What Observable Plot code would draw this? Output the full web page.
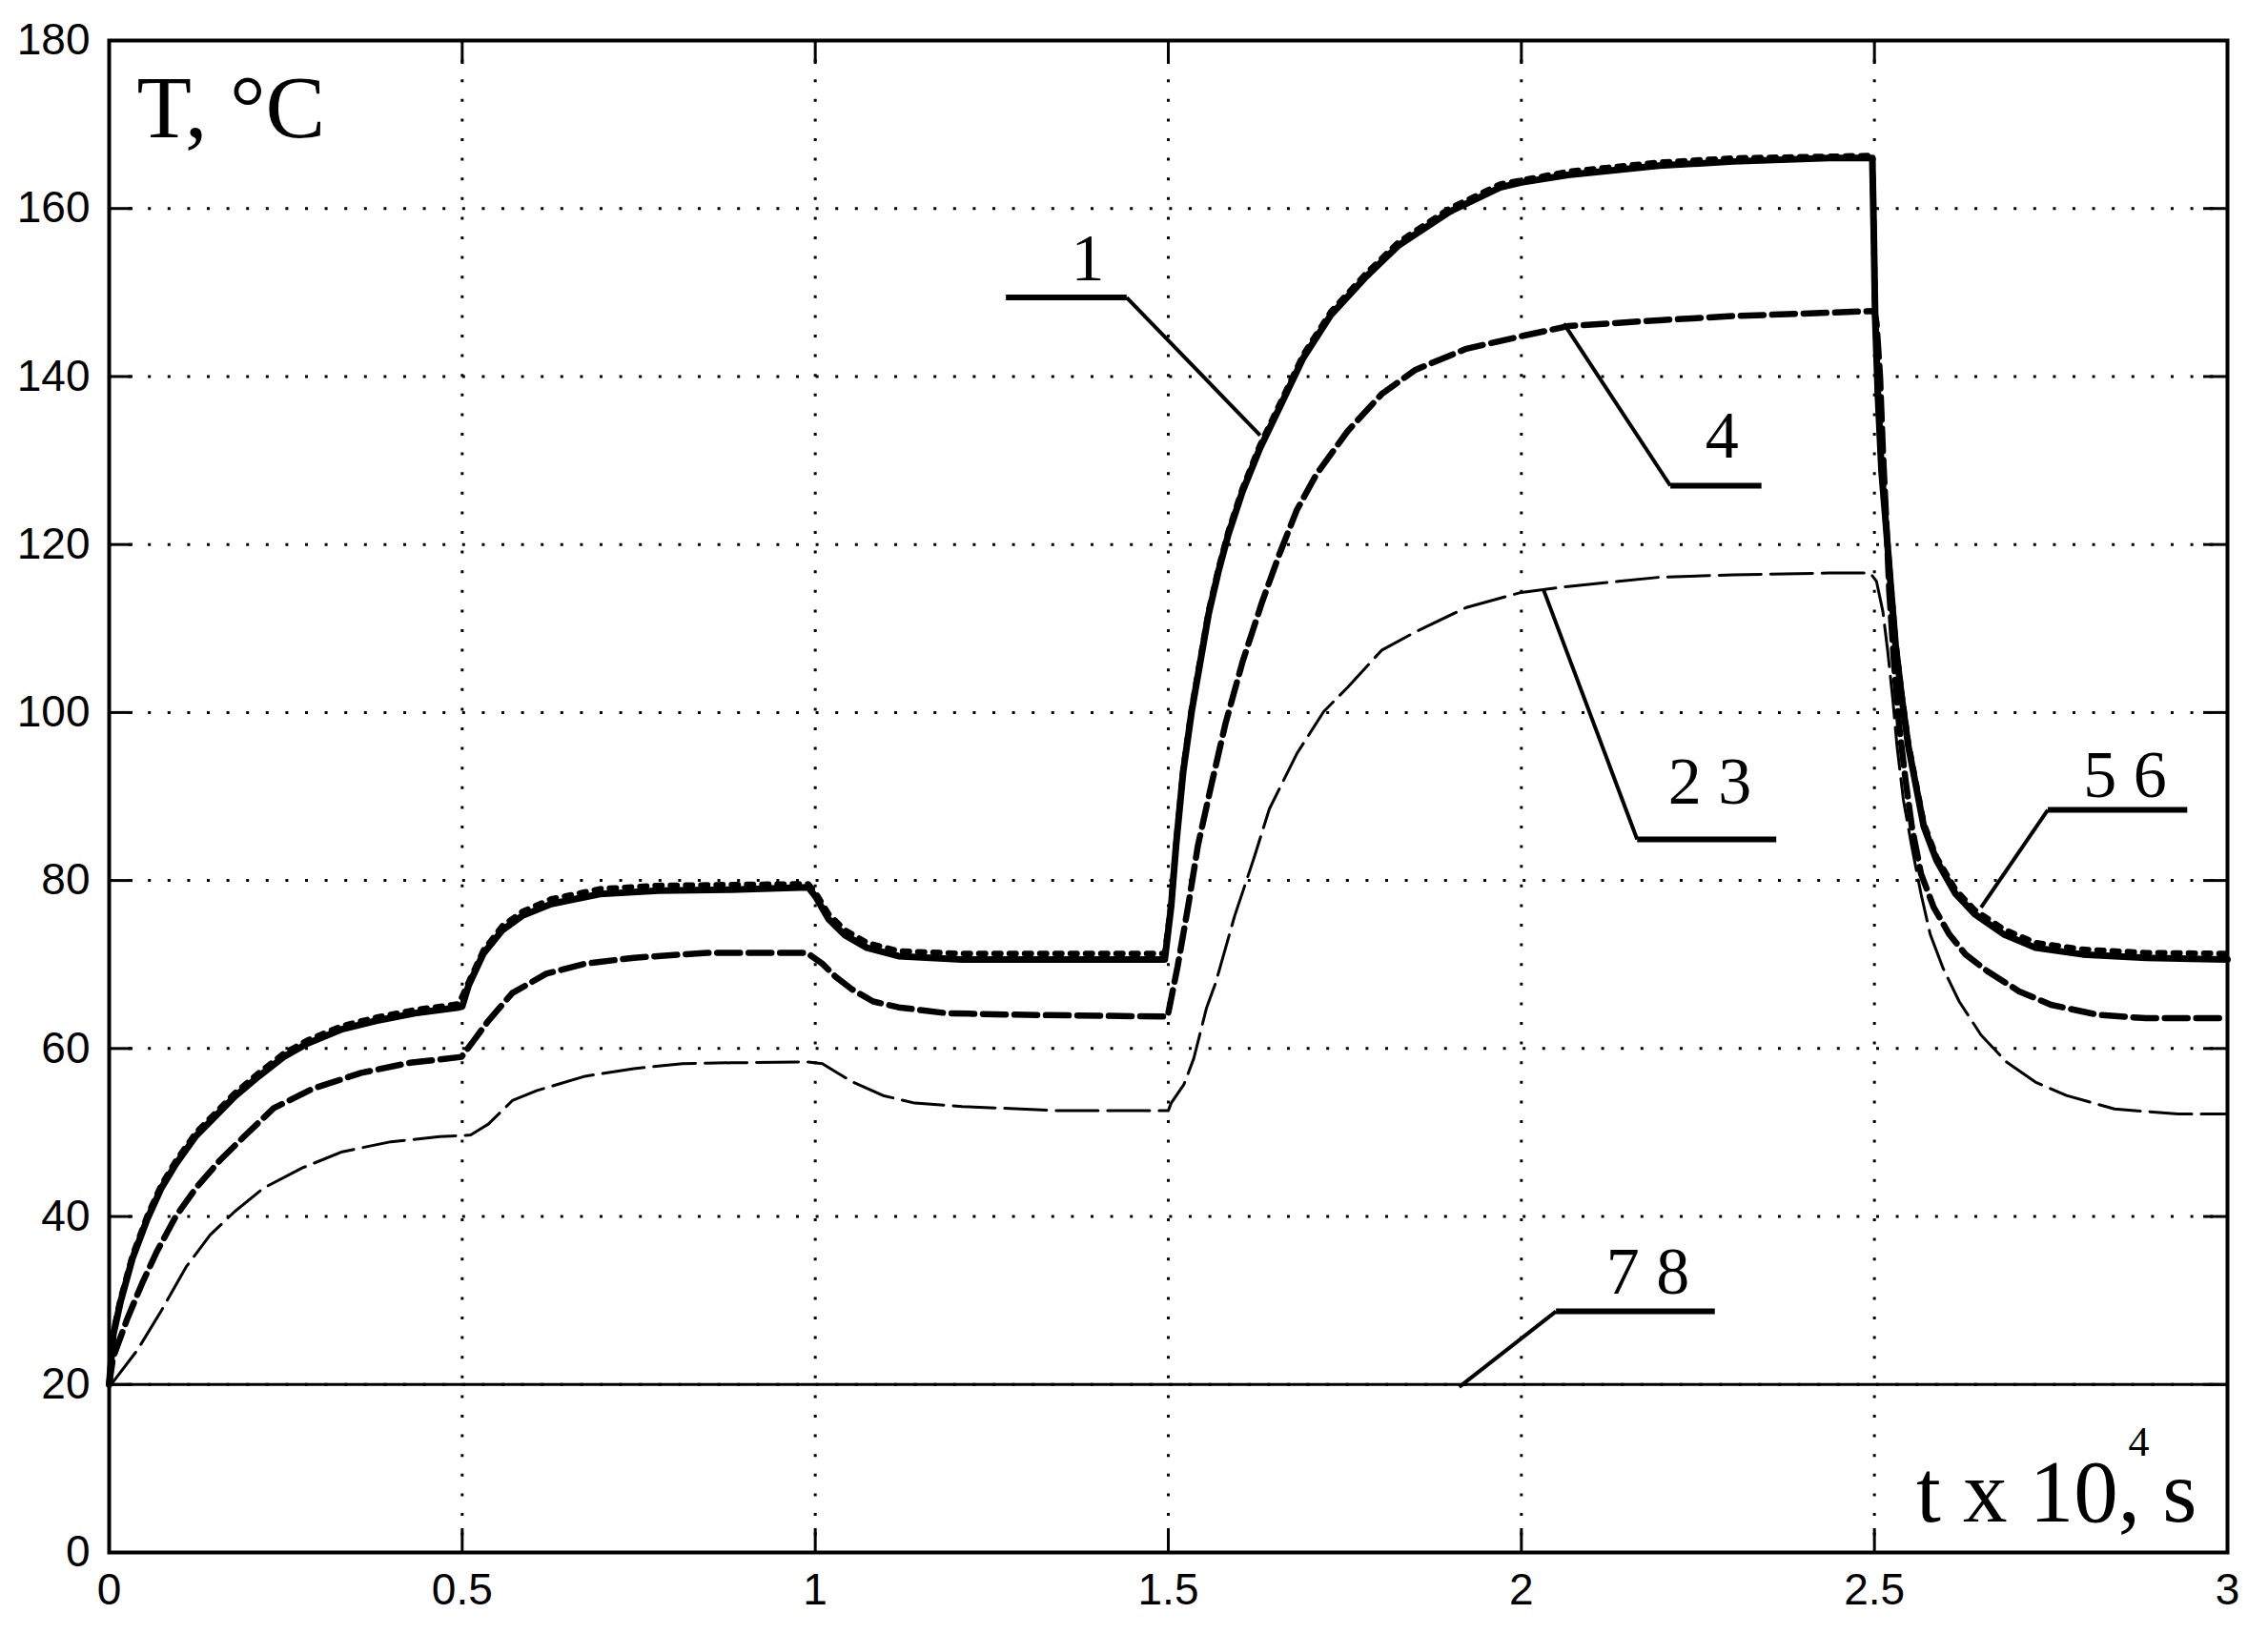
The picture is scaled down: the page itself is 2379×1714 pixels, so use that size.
<!DOCTYPE html>
<html><head><meta charset="utf-8">
<script src="https://cdn.jsdelivr.net/npm/d3@7"></script>
<script src="https://cdn.jsdelivr.net/npm/@observablehq/plot@0.6"></script>
<style>html,body{margin:0;padding:0;background:#fff;}</style>
</head><body><div id="chart"></div>
<script>
// ---- axis ticks ----
const xTicks = [0, 0.5, 1, 1.5, 2, 2.5, 3];
const xTickLabels = ["0", "0.5", "1", "1.5", "2", "2.5", "3"];
const yTicks = [0, 20, 40, 60, 80, 100, 120, 140, 160, 180];
const yTickLabels = ["0", "20", "40", "60", "80", "100", "120", "140", "160", "180"];

// ---- series values [t x 10^4 s, T °C] ----
const curve1 = [[0,20],[0.006,26],[0.016,29.8],[0.033,35.0],[0.054,39.7],[0.074,43.4],[0.095,46.3],[0.123,49.6],[0.150,51.9],[0.178,54.3],[0.212,56.7],[0.247,59.0],[0.281,60.6],[0.330,62.3],[0.378,63.3],[0.433,64.2],[0.495,64.9],[0.500,65.0],[0.509,67.5],[0.530,71.3],[0.557,74.1],[0.585,75.8],[0.626,77.2],[0.695,78.4],[0.778,78.8],[0.881,78.9],[0.990,79.2],[1.001,78.0],[1.019,75.4],[1.042,73.5],[1.073,72.0],[1.118,71.0],[1.208,70.6],[1.495,70.6],[1.504,76.9],[1.511,84.2],[1.521,92.9],[1.533,100.1],[1.545,105.9],[1.557,111.7],[1.571,116.8],[1.585,121.2],[1.605,126.3],[1.629,131.3],[1.658,136.4],[1.691,142.2],[1.730,147.3],[1.778,151.7],[1.826,155.6],[1.898,159.6],[1.970,162.5],[2.000,163.1],[2.066,164.0],[2.195,165.1],[2.300,165.6],[2.436,166.0],[2.497,166.0],[2.499,157.6],[2.501,147.2],[2.505,137.6],[2.510,128.8],[2.517,121.6],[2.523,115.2],[2.530,108.0],[2.539,101.6],[2.548,96.0],[2.559,91.2],[2.570,86.4],[2.588,82.4],[2.615,78.4],[2.642,76.0],[2.683,73.6],[2.728,72.0],[2.795,71.2],[2.885,70.8],[3.0,70.6]];
const curve56 = [[0,20],[0.006,26.3],[0.016,30.2],[0.033,35.4],[0.054,40.1],[0.074,43.8],[0.095,46.7],[0.123,50.0],[0.150,52.3],[0.178,54.7],[0.212,57.1],[0.247,59.4],[0.281,61.0],[0.330,62.7],[0.378,63.7],[0.433,64.6],[0.495,65.3],[0.509,67.9],[0.530,71.7],[0.557,74.6],[0.585,76.3],[0.626,77.8],[0.695,79.0],[0.778,79.4],[0.881,79.5],[0.990,79.6],[1.001,78.5],[1.019,76.0],[1.042,74.1],[1.073,72.6],[1.118,71.6],[1.208,71.3],[1.495,71.3],[1.504,77.3],[1.511,84.6],[1.521,93.3],[1.533,100.5],[1.545,106.3],[1.557,112.1],[1.571,117.2],[1.585,121.6],[1.605,126.7],[1.629,131.7],[1.658,136.8],[1.691,142.6],[1.730,147.7],[1.778,152.1],[1.826,156.0],[1.898,160.0],[1.970,162.9],[2.066,164.4],[2.195,165.5],[2.300,166.0],[2.497,166.3],[2.499,158.0],[2.501,147.6],[2.505,138.0],[2.510,129.2],[2.517,122.0],[2.523,115.6],[2.530,108.4],[2.539,102.0],[2.548,96.4],[2.559,91.6],[2.570,86.8],[2.588,82.8],[2.615,78.9],[2.642,76.5],[2.683,74.2],[2.728,72.6],[2.795,71.8],[2.885,71.4],[3.0,71.3]];
const curve4 = [[0,20],[0.0055,23.2],[0.026,27.9],[0.047,32.1],[0.068,35.9],[0.095,40.1],[0.123,43.4],[0.157,46.7],[0.192,49.6],[0.233,52.9],[0.288,55.2],[0.357,57.1],[0.426,58.3],[0.499,59.0],[0.516,60.9],[0.537,63.3],[0.571,66.6],[0.619,68.9],[0.674,70.1],[0.743,70.8],[0.847,71.4],[0.988,71.4],[1.010,70.1],[1.028,68.6],[1.051,67.1],[1.082,65.6],[1.118,64.9],[1.186,64.2],[1.298,64.0],[1.499,63.8],[1.513,69.7],[1.528,76.9],[1.542,84.2],[1.561,91.4],[1.581,98.7],[1.605,106.0],[1.633,113.2],[1.658,119.0],[1.682,124.1],[1.710,128.4],[1.754,133.5],[1.802,137.9],[1.850,140.8],[1.922,143.3],[2.000,144.8],[2.066,146.0],[2.195,146.7],[2.300,147.2],[2.436,147.6],[2.500,147.8],[2.503,146.4],[2.508,140.0],[2.512,131.2],[2.517,122.4],[2.521,114.4],[2.528,105.6],[2.535,98.4],[2.544,92.0],[2.553,86.4],[2.566,80.8],[2.584,76.8],[2.606,73.6],[2.629,71.2],[2.660,69.2],[2.705,66.8],[2.750,65.2],[2.817,64.0],[2.885,63.6],[3.0,63.6]];
const curve23 = [[0,20],[0.0055,20.3],[0.040,24.1],[0.074,28.8],[0.109,34.0],[0.143,37.8],[0.178,40.6],[0.219,43.4],[0.274,45.8],[0.330,47.7],[0.399,48.9],[0.468,49.5],[0.512,49.7],[0.537,51.0],[0.571,53.8],[0.606,55.0],[0.674,56.7],[0.743,57.6],[0.812,58.2],[0.881,58.3],[0.990,58.4],[1.010,58.2],[1.051,56.1],[1.096,54.4],[1.141,53.5],[1.208,53.1],[1.343,52.6],[1.500,52.6],[1.504,53.5],[1.522,55.7],[1.536,58.8],[1.554,64.8],[1.567,67.8],[1.594,75.8],[1.621,82.6],[1.643,88.5],[1.682,95.1],[1.720,100.1],[1.754,103.0],[1.802,107.4],[1.850,109.6],[1.922,112.5],[2.000,114.3],[2.066,115.0],[2.195,116.1],[2.300,116.4],[2.436,116.6],[2.494,116.6],[2.503,115.6],[2.512,112.0],[2.519,107.2],[2.526,101.6],[2.532,96.0],[2.541,89.6],[2.553,84.0],[2.566,78.4],[2.579,73.6],[2.597,69.6],[2.620,65.6],[2.651,61.6],[2.687,58.4],[2.728,56.0],[2.772,54.4],[2.840,52.8],[2.930,52.2],[3.0,52.2]];
const curve78 = [[0,20],[3,20]];

// ---- curve labels and leader lines (data units) ----
const labelText = ["1", "4", "2 3", "5 6", "7 8"];
const labelX = [1.386, 2.284, 2.267, 2.855, 2.179];
const labelY = [151.5, 130.4, 89.1, 90.0, 30.8];
const leaderTipX = [1.630, 2.060, 2.031, 2.651, 1.912];
const leaderTipY = [133.0, 146.3, 114.7, 76.8, 19.7];
const leaderElbowX = [1.441, 2.211, 2.164, 2.7455, 2.049];
const leaderEndX = [1.270, 2.340, 2.361, 2.943, 2.274];
const leaderY = [149.4, 127.0, 84.9, 88.4, 28.7];

const rows = a => a.map(([t, T]) => ({t, T}));
const labels = labelText.map((s, i) => ({s, x: labelX[i], y: labelY[i]}));
const leaders = labelText.map((s, i) => ({tx: leaderTipX[i], ty: leaderTipY[i], ex: leaderElbowX[i], hx: leaderEndX[i], hy: leaderY[i]}));

const W = 2379, H = 1714, mL = 114, mR = 43, mT = 42, mB = 86;
const innerW = W - mL - mR, innerH = H - mT - mB, tickLen = 25;
const serif = "'Liberation Serif', 'Times New Roman', serif";
const gridStyle = {stroke: "#000", strokeOpacity: 1, strokeWidth: 3, strokeDasharray: "3,17.6"};

const chart = Plot.plot({
  width: W, height: H,
  marginLeft: mL, marginRight: mR, marginTop: mT, marginBottom: mB,
  x: {domain: [0, 3]},
  y: {domain: [0, 180]},
  style: {fontFamily: "'Liberation Sans', Arial, sans-serif", fontSize: "46px", color: "#000", background: "#fff"},
  marks: [
    Plot.gridY(yTicks, gridStyle),
    Plot.gridX(xTicks, gridStyle),
    Plot.line(rows(curve78), {x: "t", y: "T", stroke: "#000", strokeWidth: 3}),
    Plot.line(rows(curve23), {x: "t", y: "T", stroke: "#000", strokeWidth: 3, strokeDasharray: "44,10"}),
    Plot.line(rows(curve4), {x: "t", y: "T", stroke: "#000", strokeWidth: 6.5, strokeDasharray: "24,9"}),
    Plot.line(rows(curve1), {x: "t", y: "T", stroke: "#000", strokeWidth: 7}),
    Plot.line(rows(curve56), {x: "t", y: "T", stroke: "#000", strokeWidth: 6, strokeDasharray: "7,9"}),
    Plot.link(leaders, {x1: "tx", y1: "ty", x2: "ex", y2: "hy", stroke: "#000", strokeWidth: 4}),
    Plot.link(leaders, {x1: "ex", y1: "hy", x2: "hx", y2: "hy", stroke: "#000", strokeWidth: 6, strokeLinecap: "butt"}),
    Plot.text(labels, {x: "x", y: "y", text: "s", fontFamily: serif, fontSize: 70, textAnchor: "middle", lineAnchor: "bottom", fill: "#000"}),
    Plot.tickY(yTicks, {y: d => d, insetRight: innerW - tickLen, stroke: "#000", strokeWidth: 3}),
    Plot.tickY(yTicks, {y: d => d, insetLeft: innerW - tickLen, stroke: "#000", strokeWidth: 3}),
    Plot.tickX(xTicks, {x: d => d, insetTop: innerH - tickLen, stroke: "#000", strokeWidth: 3}),
    Plot.tickX(xTicks, {x: d => d, insetBottom: innerH - tickLen, stroke: "#000", strokeWidth: 3}),
    Plot.axisY(yTicks, {tickSize: 0, tickPadding: 20, fontSize: 46, label: null, tickFormat: d => yTickLabels[yTicks.indexOf(d)]}),
    Plot.axisX(xTicks, {tickSize: 0, tickPadding: 22, fontSize: 46, label: null, tickFormat: d => xTickLabels[xTicks.indexOf(d)]}),
    Plot.frame({stroke: "#000", strokeWidth: 4}),
    Plot.text(["T, °C"], {text: d => d, frameAnchor: "top-left", dx: 29, dy: 101, textAnchor: "start", lineAnchor: "bottom", fontFamily: serif, fontSize: 94, fill: "#000"}),
    Plot.text(["t x 10, s"], {text: d => d, frameAnchor: "bottom-right", dx: -32, dy: -33, textAnchor: "end", lineAnchor: "bottom", fontFamily: serif, fontSize: 93, fill: "#000"}),
    Plot.text(["4"], {text: d => d, frameAnchor: "bottom-right", dx: -93, dy: -102, textAnchor: "middle", lineAnchor: "bottom", fontFamily: serif, fontSize: 44, fill: "#000"})
  ]
});
document.getElementById("chart").appendChild(chart);
</script>
</body></html>
